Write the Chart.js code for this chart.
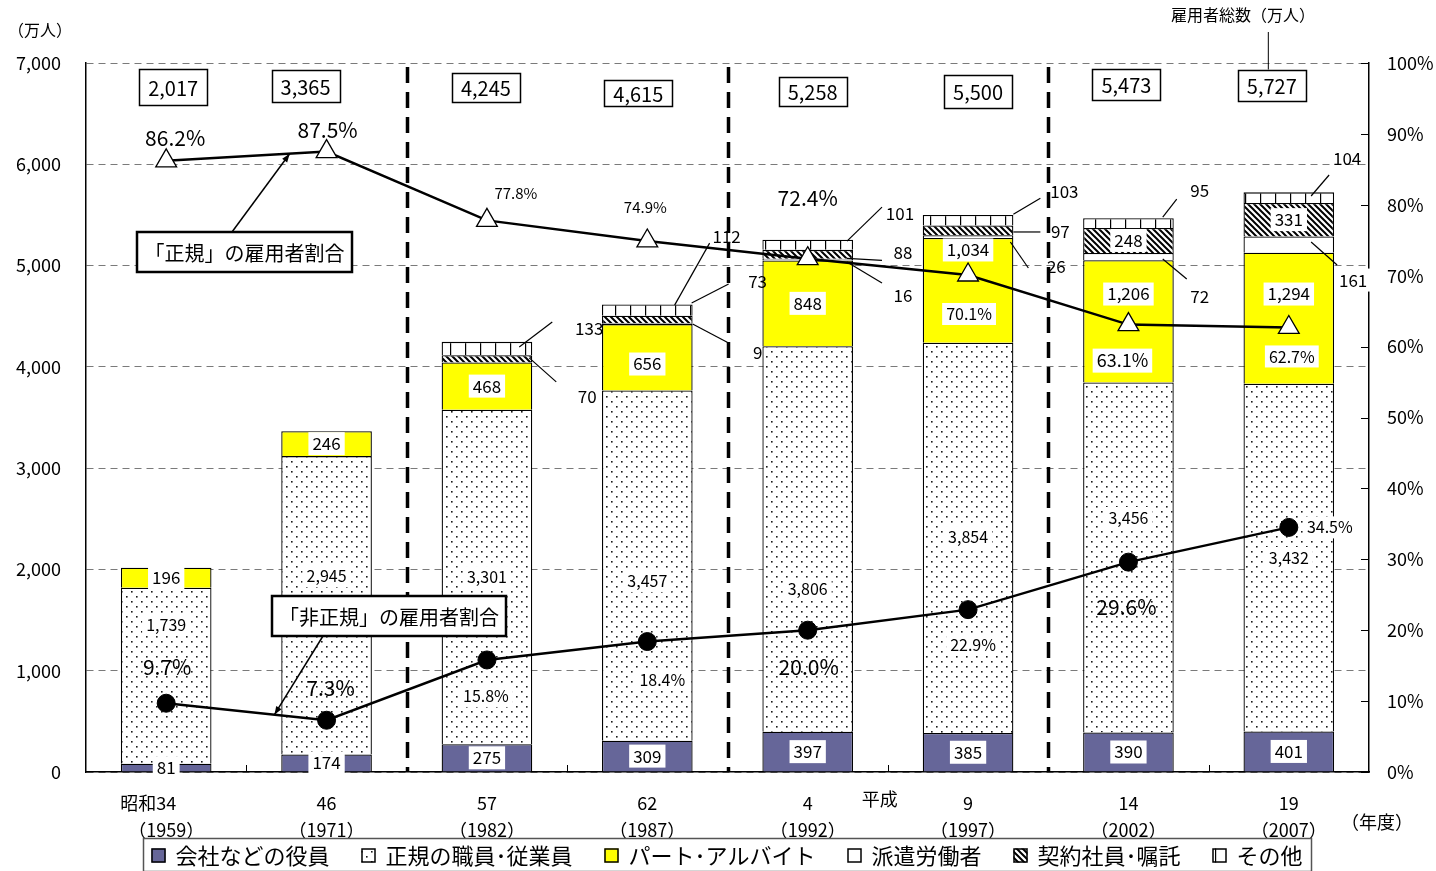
<!DOCTYPE html>
<html>
<head>
<meta charset="utf-8">
<script src="https://cdn.jsdelivr.net/npm/chart.js@4.4.1/dist/chart.umd.min.js"></script>
<style>
  html, body { margin: 0; padding: 0; background: #fff; }
  #wrap { width: 1436px; height: 871px; }
</style>
</head>
<body>
<div id="wrap"><canvas id="c" width="1436" height="871"></canvas></div>
<script>
// ---- data (万人 / %) ----
const eraNums     = ['34', '46', '57', '62', '4', '9', '14', '19'];
const yearLabels  = ['1959', '1971', '1982', '1987', '1992', '1997', '2002', '2007'];
const officers    = [81, 174, 275, 309, 397, 385, 390, 401];
const regular     = [1739, 2945, 3301, 3457, 3806, 3854, 3456, 3432];
const partTime    = [196, 246, 468, 656, 848, 1034, 1206, 1294];
const dispatched  = [null, null, null, 9, 16, 26, 72, 161];
const contract    = [null, null, 70, 73, 88, 97, 248, 331];
const others      = [null, null, 133, 112, 101, 103, 95, 104];
const totals      = [2017, 3365, 4245, 4615, 5258, 5500, 5473, 5727];
const regularRatio    = [86.2, 87.5, 77.8, 74.9, 72.4, 70.1, 63.1, 62.7];
const nonRegularRatio = [9.7, 7.3, 15.8, 18.4, 20.0, 22.9, 29.6, 34.5];
const leftTicks  = [0, 1000, 2000, 3000, 4000, 5000, 6000, 7000];
const rightTicks = [0, 10, 20, 30, 40, 50, 60, 70, 80, 90, 100];
const seriesNames = ['会社などの役員', '正規の職員･従業員', 'パート･アルバイト', '派遣労働者', '契約社員･嘱託', 'その他'];

// ---- label placement ----
const FONT = "'Noto Sans CJK JP', 'Noto Sans', sans-serif";
const regLabelAt  = [1451, 1935, 1925, 1886, 1807, 2320, 2508, 2113];   // left-axis units
const partLabelAt = [null, null, null, 4028, null, 5154, 4719, 4719];
const totalBoxDx  = [7, -21, -1, -9, 5, 10, -2, -17];
const totalBoxY   = [87, 86, 87, 93, 91, 91, 84, 85];
const totalBoxH   = [36, 32, 29, 26, 29, 33, 31, 31];
// [dx, dy, fontSize, whiteBox]
const regPctPos = [[9,-23,21,false],[1,-22,21,false],[29,-27,15,false],[-2,-34,15,false],[0,-61,21,false],[1,39,16,true],[-6,36,18,true],[3,29,16,true]];
const nonPctPos = [[1,-36,21,false],[4,-32,21,false],[-1,36,16,true],[15,38,16,true],[1,37,21,false],[5,35,16,true],[-2,45,21,false],[41,0,16,true]];
// leader lines, relative to (bar right edge, segment middle)
const callouts = [
  {ds:5, i:2, from:[-13,-1.5], to:[20,-26.5], text:[57,-20.5]},
  {ds:4, i:2, from:[-3,-1],    to:[24,23],    text:[55,38]},
  {ds:5, i:3, from:[-18,-5],   to:[17,-67],   text:[34,-74]},
  {ds:4, i:3, from:[-1,-16.5], to:[36,-35.5], text:[65,-37.5]},
  {ds:3, i:3, from:[0,0.4],    to:[36,19.4],  text:[65,28.4]},
  {ds:5, i:4, from:[-6,-3.7],  to:[29,-37.7], text:[47,-31.7]},
  {ds:4, i:4, from:[-6,4],     to:[29,6],     text:[50,-1.3]},
  {ds:3, i:4, from:[-6,2.4],   to:[29,23.4],  text:[50,36.4]},
  {ds:5, i:5, from:[0,-6],     to:[27,-22],   text:[51,-29]},
  {ds:4, i:5, from:[0,1.6],    to:[27,1.6],   text:[47,1.6]},
  {ds:3, i:5, from:[-3,5.4],   to:[15,31.4],  text:[43,30.4]},
  {ds:5, i:6, from:[-11,-6],   to:[3,-24],    text:[26,-33]},
  {ds:3, i:6, from:[-11,2.4],  to:[13,22.4],  text:[26,39.4]},
  {ds:5, i:7, from:[-23,-1.6], to:[-5,-22.6], text:[13,-38.6]},
  {ds:3, i:7, from:[-23,-2.5], to:[3,20.5],   text:[19,35.5], box:true}
];
const noteBoxes = [
  {text:'「正規」の雇用者割合',   x:137, y:232, w:215, h:40, from:[232,232], line:6, t:0.77},
  {text:'「非正規」の雇用者割合', x:272, y:596, w:234, h:40, from:[323,636], line:7, t:0.675}
];

// ---- fill patterns ----
function makePattern(w, h, draw) {
  const c = document.createElement('canvas');
  c.width = w; c.height = h;
  const g = c.getContext('2d');
  g.fillStyle = '#fff'; g.fillRect(0, 0, w, h);
  draw(g);
  return g.createPattern(c, 'repeat');
}
const dotFill = makePattern(10, 10, g => {
  g.fillStyle = '#1a1a1a';
  g.fillRect(1, 1, 1.6, 1.6);
  g.fillRect(6, 6, 1.6, 1.6);
});
const hatchFill = makePattern(6, 6, g => {
  g.strokeStyle = '#000'; g.lineWidth = 2;
  g.beginPath();
  g.moveTo(0, 0); g.lineTo(6, 6);
  g.moveTo(-1, 5); g.lineTo(1, 7);
  g.moveTo(5, -1); g.lineTo(7, 1);
  g.stroke();
});
const gridFill = makePattern(15, 20, g => {
  g.fillStyle = '#000';
  g.fillRect(0, 0, 1.2, 20);
});

function fmt(v) { return v.toLocaleString('en-US'); }

function textAt(ctx, str, x, y, size, box, align) {
  ctx.font = size + 'px ' + FONT;
  const w = ctx.measureText(str).width;
  const a = align || 'center';
  let left = a === 'center' ? x - w / 2 : (a === 'right' ? x - w : x);
  if (box) {
    ctx.fillStyle = '#fff';
    ctx.fillRect(left - 4, y - size / 2 - 3, w + 8, size + 6);
  }
  ctx.fillStyle = '#000';
  ctx.textAlign = a;
  ctx.textBaseline = 'middle';
  ctx.fillText(str, x, y);
  return w;
}

const decorations = {
  id: 'decorations',
  beforeDatasetsDraw(chart) {
    const {ctx, chartArea: a, scales: {x}} = chart;
    ctx.save();
    // era separators and small boundary ticks
    for (let i = 0; i < eraNums.length - 1; i++) {
      const bx = Math.round((x.getPixelForValue(i) + x.getPixelForValue(i + 1)) / 2) + 0.5;
      ctx.strokeStyle = '#000';
      if (i % 2 === 1) {
        ctx.lineWidth = 3.5;
        ctx.setLineDash([16, 9]);
        ctx.beginPath(); ctx.moveTo(bx, a.top + 4); ctx.lineTo(bx, a.bottom); ctx.stroke();
        ctx.setLineDash([]);
      } else {
        ctx.lineWidth = 1;
        ctx.beginPath(); ctx.moveTo(bx, a.bottom); ctx.lineTo(bx, a.bottom - 7); ctx.stroke();
      }
    }
    // inner ticks of the right axis
    const y2 = chart.scales.y2;
    ctx.lineWidth = 1; ctx.strokeStyle = '#000';
    rightTicks.forEach(v => {
      const yy = Math.round(y2.getPixelForValue(v)) + 0.5;
      ctx.beginPath(); ctx.moveTo(a.right - 8, yy); ctx.lineTo(a.right, yy); ctx.stroke();
    });
    ctx.restore();
  },
  afterDatasetsDraw(chart) {
    const {ctx, chartArea: a, scales: {x, y}} = chart;
    ctx.save();
    const seg = (ds, i) => chart.getDatasetMeta(ds).data[i].getProps(['x', 'y', 'base', 'width'], true);

    // values inside the bars
    for (let i = 0; i < eraNums.length; i++) {
      let s = seg(0, i);
      textAt(ctx, fmt(officers[i]), s.x, (s.y + s.base) / 2, 17, true);
      s = seg(1, i);
      textAt(ctx, fmt(regular[i]), s.x, y.getPixelForValue(regLabelAt[i]), 16, true);
      s = seg(2, i);
      const py = partLabelAt[i] == null ? (s.y + s.base) / 2 : y.getPixelForValue(partLabelAt[i]);
      textAt(ctx, fmt(partTime[i]), s.x, py, 17, true);
      if (i >= 6) {
        s = seg(4, i);
        textAt(ctx, fmt(contract[i]), s.x, (s.y + s.base) / 2, 17, true);
      }
    }

    // small segments with leader lines
    const series = [officers, regular, partTime, dispatched, contract, others];
    ctx.strokeStyle = '#000'; ctx.lineWidth = 1.2;
    callouts.forEach(c => {
      const s = seg(c.ds, c.i);
      const rx = s.x + s.width / 2, my = (s.y + s.base) / 2;
      ctx.beginPath();
      ctx.moveTo(rx + c.from[0], my + c.from[1]);
      ctx.lineTo(rx + c.to[0], my + c.to[1]);
      ctx.stroke();
      textAt(ctx, fmt(series[c.ds][c.i]), rx + c.text[0], my + c.text[1], 17, !!c.box);
    });

    // ratio labels
    const m1 = chart.getDatasetMeta(6).data, m2 = chart.getDatasetMeta(7).data;
    regularRatio.forEach((v, i) => {
      const p = regPctPos[i];
      textAt(ctx, v.toFixed(1) + '%', m1[i].x + p[0], m1[i].y + p[1], p[2], p[3]);
    });
    nonRegularRatio.forEach((v, i) => {
      const p = nonPctPos[i];
      textAt(ctx, v.toFixed(1) + '%', m2[i].x + p[0], m2[i].y + p[1], p[2], p[3]);
    });

    // totals across the top
    totals.forEach((v, i) => {
      const cx = x.getPixelForValue(i) + totalBoxDx[i], cy = totalBoxY[i];
      ctx.font = '20px ' + FONT;
      const w = ctx.measureText(fmt(v)).width + 18, h = totalBoxH[i];
      ctx.fillStyle = '#fff';
      ctx.fillRect(cx - w / 2, cy - h / 2, w, h);
      ctx.strokeStyle = '#000'; ctx.lineWidth = 1.5;
      ctx.strokeRect(Math.round(cx - w / 2) + 0.5, Math.round(cy - h / 2) + 0.5, Math.round(w), Math.round(h));
      textAt(ctx, fmt(v), cx, cy + 1, 20, false);
    });

    // captions for the two ratio lines
    noteBoxes.forEach(b => {
      const pts = chart.getDatasetMeta(b.line).data;
      const tx = pts[0].x + (pts[1].x - pts[0].x) * b.t;
      const ty = pts[0].y + (pts[1].y - pts[0].y) * b.t;
      ctx.strokeStyle = '#000'; ctx.lineWidth = 1.5;
      ctx.beginPath(); ctx.moveTo(b.from[0], b.from[1]); ctx.lineTo(tx, ty); ctx.stroke();
      const ang = Math.atan2(ty - b.from[1], tx - b.from[0]);
      ctx.fillStyle = '#000';
      ctx.beginPath();
      ctx.moveTo(tx, ty);
      ctx.lineTo(tx - 9 * Math.cos(ang - 0.35), ty - 9 * Math.sin(ang - 0.35));
      ctx.lineTo(tx - 9 * Math.cos(ang + 0.35), ty - 9 * Math.sin(ang + 0.35));
      ctx.closePath(); ctx.fill();
      ctx.fillStyle = '#fff';
      ctx.fillRect(b.x, b.y, b.w, b.h);
      ctx.lineWidth = 2.5;
      ctx.strokeRect(b.x, b.y, b.w, b.h);
      textAt(ctx, b.text, b.x + b.w / 2, b.y + b.h / 2 + 1, 20, false);
    });
    ctx.restore();
  },
  afterDraw(chart) {
    const {ctx, chartArea: a, scales: {x}} = chart;
    ctx.save();
    // category labels
    for (let i = 0; i < eraNums.length; i++) {
      const cx = x.getPixelForValue(i);
      const w = textAt(ctx, eraNums[i], cx, 803, 18, false);
      if (i === 0) textAt(ctx, '昭和', cx - w / 2, 803, 18, false, 'right');
      textAt(ctx, '（' + yearLabels[i] + '）', cx, 830, 18, false);
    }
    textAt(ctx, '平成', x.getPixelForValue(4) + 72, 799, 18, false);
    textAt(ctx, '（年度）', 1377, 822, 18, false);
    textAt(ctx, '（万人）', 40, 30, 16, false);

    // total-employees caption
    const lastX = x.getPixelForValue(7) + totalBoxDx[7] - 4;
    textAt(ctx, '雇用者総数（万人）', 1243, 15, 16, false);
    ctx.strokeStyle = '#000'; ctx.lineWidth = 1;
    ctx.beginPath(); ctx.moveTo(lastX + 0.5, 32); ctx.lineTo(lastX + 0.5, totalBoxY[7] - totalBoxH[7] / 2); ctx.stroke();

    // legend
    const bars = chart.data.datasets.slice(0, 6);
    ctx.font = '22px ' + FONT;
    const gap = 32, sw = 14, tgap = 10;
    let total = 0;
    bars.forEach(d => { total += sw + tgap + ctx.measureText(d.label).width; });
    total += gap * (bars.length - 1);
    const lx0 = 143, lx1 = 1311, ly = 838, lh = 33;
    ctx.fillStyle = '#fff';
    ctx.fillRect(lx0, ly, lx1 - lx0, lh);
    ctx.strokeStyle = '#555'; ctx.lineWidth = 1.5;
    ctx.strokeRect(lx0 + 0.5, ly + 0.5, lx1 - lx0, lh);
    let cx = (lx0 + lx1) / 2 - total / 2;
    const cy = ly + lh / 2 + 1;
    bars.forEach(d => {
      ctx.fillStyle = d.backgroundColor;
      ctx.fillRect(cx, cy - sw / 2, sw, sw);
      ctx.strokeStyle = '#000'; ctx.lineWidth = 1.5;
      ctx.strokeRect(cx + 0.5, cy - sw / 2 + 0.5, sw - 1, sw - 1);
      const w = textAt(ctx, d.label, cx + sw + tgap, cy, 22, false, 'left');
      cx += sw + tgap + w + gap;
    });
    ctx.restore();
  }
};

const barCommon = {
  type: 'bar', stack: 'emp', yAxisID: 'y', order: 1,
  borderColor: '#000', borderWidth: 1.3,
  barPercentage: 0.565, categoryPercentage: 1.0
};

new Chart(document.getElementById('c'), {
  data: {
    labels: eraNums.map((n, i) => [n, '（' + yearLabels[i] + '）']),
    datasets: [
      Object.assign({label: seriesNames[0], data: officers,   backgroundColor: '#666699'}, barCommon),
      Object.assign({label: seriesNames[1], data: regular,    backgroundColor: dotFill}, barCommon),
      Object.assign({label: seriesNames[2], data: partTime,   backgroundColor: '#ffff00'}, barCommon),
      Object.assign({label: seriesNames[3], data: dispatched, backgroundColor: '#ffffff'}, barCommon),
      Object.assign({label: seriesNames[4], data: contract,   backgroundColor: hatchFill}, barCommon),
      Object.assign({label: seriesNames[5], data: others,     backgroundColor: gridFill}, barCommon),
      {
        type: 'line', label: '「正規」の雇用者割合', data: regularRatio, yAxisID: 'y2', order: 0,
        borderColor: '#000', borderWidth: 2.5, tension: 0,
        pointStyle: 'triangle', pointRadius: 12, pointBackgroundColor: '#fff',
        pointBorderColor: '#000', pointBorderWidth: 1.3
      },
      {
        type: 'line', label: '「非正規」の雇用者割合', data: nonRegularRatio, yAxisID: 'y2', order: 0,
        borderColor: '#000', borderWidth: 2.5, tension: 0,
        pointStyle: 'circle', pointRadius: 9, pointBackgroundColor: '#000',
        pointBorderColor: '#000', pointBorderWidth: 1
      }
    ]
  },
  options: {
    responsive: false,
    animation: false,
    devicePixelRatio: 1,
    layout: {padding: {top: 63, left: 0, right: 0, bottom: 0}},
    plugins: {legend: {display: false}, tooltip: {enabled: false}},
    font: {family: FONT},
    scales: {
      x: {
        stacked: true, offset: true,
        grid: {display: false},
        border: {display: true, color: '#000', width: 1.5},
        ticks: {display: false},
        afterFit: s => { s.height = 99; }
      },
      y: {
        stacked: true, position: 'left', min: 0, max: 7000,
        afterBuildTicks: s => { s.ticks = leftTicks.map(v => ({value: v})); },
        ticks: {callback: v => fmt(v), color: '#000', font: {family: FONT, size: 18}, padding: 25},
        grid: {color: '#7a7a7a', lineWidth: 1, drawTicks: false},
        border: {display: true, color: '#000', width: 1.5, dash: [7, 5]},
        afterFit: s => { s.width = 86; }
      },
      y2: {
        position: 'right', min: 0, max: 100,
        afterBuildTicks: s => { s.ticks = rightTicks.map(v => ({value: v})); },
        ticks: {callback: v => v + '%', color: '#000', font: {family: FONT, size: 18}, padding: 18},
        grid: {display: false, drawTicks: false},
        border: {display: true, color: '#000', width: 1.5},
        afterFit: s => { s.width = 67; }
      }
    }
  },
  plugins: [decorations]
});
</script>
</body>
</html>
